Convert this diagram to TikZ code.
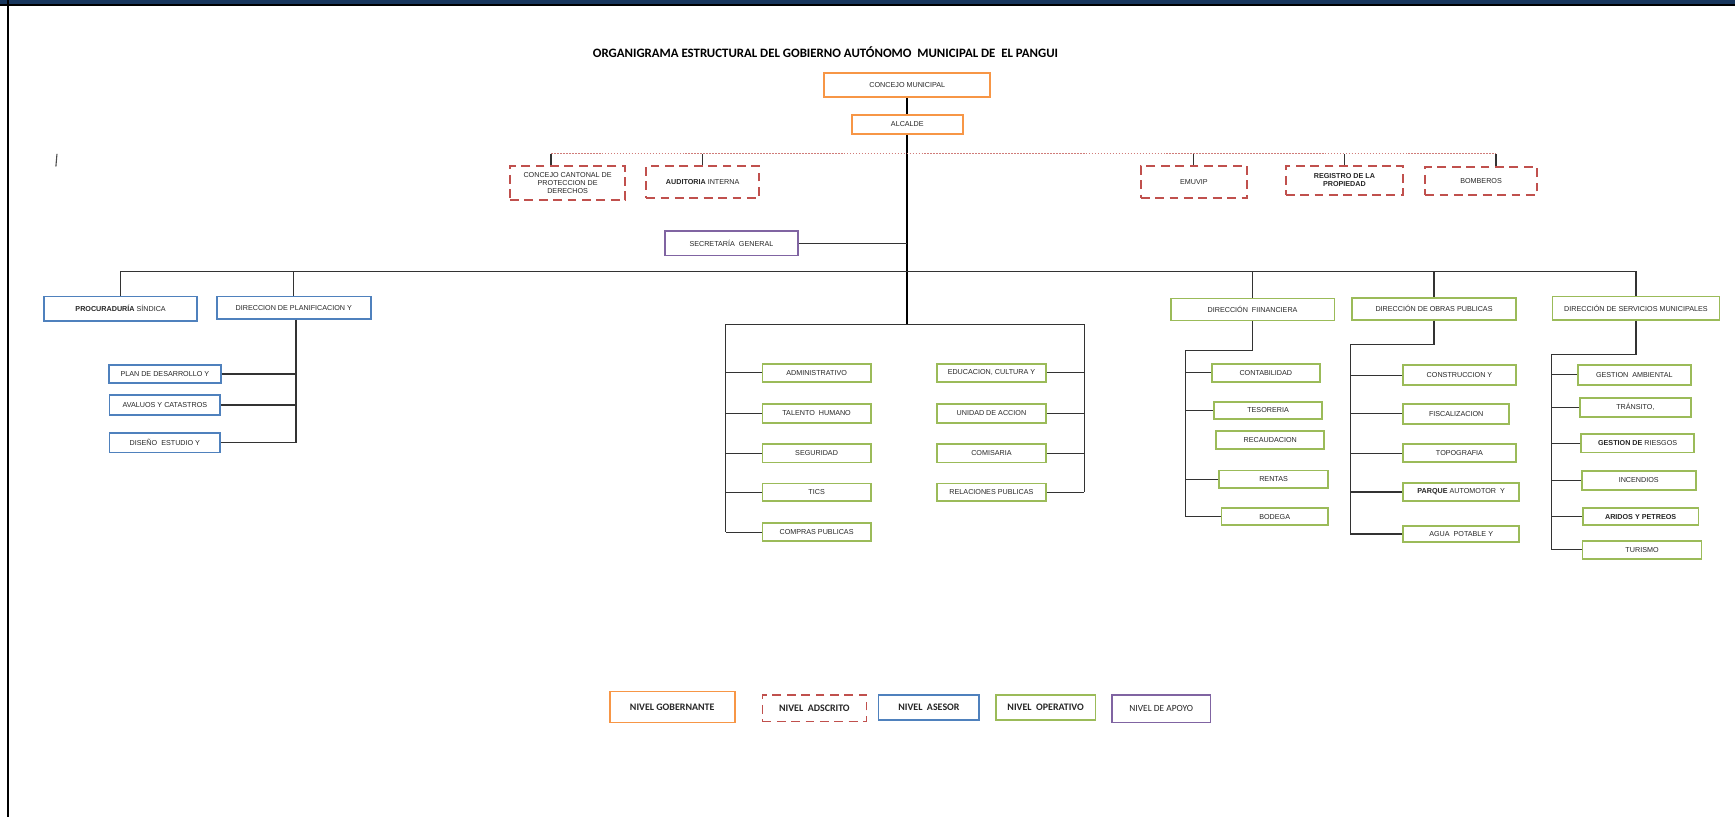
\documentclass[tikz,border=0pt]{standalone}
\usepackage{fontspec}
\setmainfont{Liberation Sans}
\newfontfamily\calib{Carlito}
\definecolor{gobcol}{HTML}{F79646}
\definecolor{adscol}{HTML}{C0504D}
\definecolor{asecol}{HTML}{4F81BD}
\definecolor{opecol}{HTML}{9BBB59}
\definecolor{apocol}{HTML}{8064A2}
\definecolor{barcol}{HTML}{17365D}
\begin{document}
\begin{tikzpicture}[x=1pt,y=-1pt,
    wh/.style 2 args={minimum width=#1pt,minimum height=#2pt}]
    \tikzstyle{box}=[draw,fill=white,line width=1.6pt,inner sep=0pt,align=center,
        text=black!85,font=\fontsize{6.5}{7.5}\selectfont]
    \tikzstyle{gob}=[box,draw=gobcol]
    \tikzstyle{ads}=[box,draw=adscol,dash pattern=on 8pt off 5pt]
    \tikzstyle{ase}=[box,draw=asecol]
    \tikzstyle{ope}=[box,draw=opecol]
    \tikzstyle{apo}=[box,draw=apocol]
    \tikzstyle{lgd}=[font=\calib\bfseries\fontsize{9}{10}\selectfont]
    \tikzstyle{link}=[line width=1pt,black!80]
    \tikzstyle{main}=[line width=2pt,black]
    \tikzstyle{dotline}=[line width=0.8pt,adscol!75,dash pattern=on 1.5pt off 1.2pt]
    \useasboundingbox (0,0) rectangle (1568,738);
    \fill[barcol] (0,0) rectangle (1568,3.6);
    \fill[black] (0,3.6) rectangle (1568,5.6);
    \fill[black] (6.3,0) rectangle (8.3,738);
    \draw[black!70,line width=1pt] (51.5,139) -- (50.5,150.5);

    \node[font=\calib\bfseries\fontsize{11.6}{13}\selectfont] (titulo) at (746,47)
        {ORGANIGRAMA ESTRUCTURAL DEL GOBIERNO AUTÓNOMO\ \ MUNICIPAL DE\ \ EL PANGUI};

    \node[gob,wh={150}{22}] (concejo) at (820,77) {CONCEJO MUNICIPAL};
    \node[gob,wh={100}{17}] (alcalde) at (820,112.5) {ALCALDE};

    \node[ads,wh={104}{31}] (cantonal) at (513,165.5) {CONCEJO CANTONAL DE\\PROTECCION DE\\DERECHOS};
    \node[ads,wh={102}{29}] (auditoria) at (635,164.5) {\textbf{AUDITORIA} INTERNA};
    \node[ads,wh={96}{29}] (emuvip) at (1079,164.5) {EMUVIP};
    \node[ads,wh={106}{26}] (registro) at (1215,163) {\textbf{REGISTRO DE LA}\\\textbf{PROPIEDAD}};
    \node[ads,wh={101}{25}] (bomberos) at (1338.5,163.5) {BOMBEROS};

    \node[apo,wh={120}{22}] (secretaria) at (661,220) {SECRETARÍA\ \ GENERAL};

    \node[ase,wh={138}{22}] (procuraduria) at (109,279) {\textbf{PROCURADURÍA} SÍNDICA};
    \node[ase,wh={139}{20}] (planificacion) at (265.5,278) {DIRECCION DE PLANIFICACION Y};
    \node[ase,wh={101}{16}] (pdesarrollo) at (149,338) {PLAN DE DESARROLLO Y};
    \node[ase,wh={100}{17.5}] (avaluos) at (149,366) {AVALUOS Y CATASTROS};
    \node[ase,wh={100}{18}] (diseno) at (149,400) {DISEÑO\ \ ESTUDIO Y};

    \node[ope,wh={98}{16}] (administrativo) at (738,337) {ADMINISTRATIVO};
    \node[ope,wh={98}{17}] (talento) at (738,373.5) {TALENTO\ \ HUMANO};
    \node[ope,wh={98}{17}] (seguridad) at (738,409.5) {SEGURIDAD};
    \node[ope,wh={98}{16}] (tics) at (738,445) {TICS};
    \node[ope,wh={98}{16}] (compras) at (738,481) {COMPRAS PUBLICAS};
    \node[ope,wh={98}{16}] (educacion) at (896,337) {EDUCACION, CULTURA Y};
    \node[ope,wh={98}{17}] (unidad) at (896,373.5) {UNIDAD DE ACCION};
    \node[ope,wh={98}{17}] (comisaria) at (896,409.5) {COMISARIA};
    \node[ope,wh={98}{16}] (relaciones) at (896,445) {RELACIONES PUBLICAS};

    \node[ope,wh={148}{20}] (financiera) at (1132,279.7) {DIRECCIÓN\ \ FIINANCIERA};
    \node[ope,wh={98}{16}] (contabilidad) at (1144,337) {CONTABILIDAD};
    \node[ope,wh={98}{16}] (tesoreria) at (1146,371) {TESORERIA};
    \node[ope,wh={97.6}{16.3}] (recaudacion) at (1148,397.6) {RECAUDACION};
    \node[ope,wh={98.5}{15.6}] (rentas) at (1151,433) {RENTAS};
    \node[ope,wh={96}{15.6}] (bodega) at (1152,467) {BODEGA};

    \node[ope,wh={148.5}{20}] (obras) at (1296,279) {DIRECCIÓN DE OBRAS PUBLICAS};
    \node[ope,wh={102.5}{18.4}] (construccion) at (1319,339) {CONSTRUCCION Y};
    \node[ope,wh={96}{18}] (fiscalizacion) at (1316,374) {FISCALIZACION};
    \node[ope,wh={102.5}{16.5}] (topografia) at (1319,409.5) {TOPOGRAFIA};
    \node[ope,wh={105}{15.7}] (parque) at (1320.5,444.6) {\textbf{PARQUE} AUTOMOTOR\ \ Y};
    \node[ope,wh={105}{14.4}] (agua) at (1320.5,482.6) {AGUA\ \ POTABLE Y};

    \node[ope,wh={151}{21}] (servicios) at (1478.5,278.5) {DIRECCIÓN DE SERVICIOS MUNICIPALES};
    \node[ope,wh={102}{18.4}] (ambiental) at (1477,338.8) {GESTION\ \ AMBIENTAL};
    \node[ope,wh={100}{17.2}] (transito) at (1478,368) {TRÁNSITO,};
    \node[ope,wh={102}{16.5}] (riesgos) at (1480,400.7) {\textbf{GESTION DE} RIESGOS};
    \node[ope,wh={103}{17}] (incendios) at (1481,434) {INCENDIOS};
    \node[ope,wh={104.5}{15}] (aridos) at (1482.7,466.9) {\textbf{ARIDOS Y PETREOS}};
    \node[ope,wh={107.5}{16.4}] (turismo) at (1484,496.8) {TURISMO};

    \node[gob,lgd,wh={113}{28}] (lgob) at (607.5,639) {NIVEL GOBERNANTE};
    \node[ads,lgd,wh={94}{24}] (lads) at (736,640) {NIVEL\ \ ADSCRITO};
    \node[ase,lgd,wh={91}{23}] (lase) at (839.5,639.5) {NIVEL\ \ ASESOR};
    \node[ope,lgd,wh={90}{23}] (lope) at (945,639.5) {NIVEL\ \ OPERATIVO};
    \node[apo,wh={89}{25},font=\calib\fontsize{8.5}{10}\selectfont] (lapo) at (1049.5,640.5) {NIVEL DE APOYO};

    \coordinate (cbase) at (820,293);
    \coordinate (bus) at (0,245.5);
    \coordinate (dizq) at (498,139);
    \coordinate (dder) at (1352,139);
    \coordinate (plbase) at (267.5,400);
    \coordinate (cizq) at (656,481);
    \coordinate (cder) at (980,445);
    \coordinate (fin) at (1071,317);
    \coordinate (obr) at (1220.4,311);
    \coordinate (ser) at (1402.5,320.5);

    \draw[main] (concejo.south) -- (alcalde.north);
    \draw[main] (alcalde.south) -- (cbase);
    \draw[link] (secretaria.east) -- (secretaria.east -| cbase);

    \draw[dotline] (dizq) -- (dder);
    \draw[link] (dizq) -- (dizq |- cantonal.north);
    \draw[link] (dder) -- (dder |- bomberos.north);
    \foreach \n in {auditoria,emuvip,registro}
        \draw[link] (\n.north) -- (\n.north |- dizq);

    \draw[link] (procuraduria.north) -- (procuraduria.north |- bus)
        -- (servicios.north |- bus) -- (servicios.north);
    \foreach \n in {planificacion,financiera,obras}
        \draw[link] (\n.north) -- (\n.north |- bus);

    \draw[link] (plbase |- planificacion.south) -- (plbase);
    \foreach \n in {pdesarrollo,avaluos,diseno}
        \draw[link] (\n.east) -- (\n.east -| plbase);

    \draw[link] (cizq) -- (cizq |- cbase) -- (cder |- cbase) -- (cder);
    \foreach \n in {administrativo,talento,seguridad,tics,compras}
        \draw[link] (\n.west) -- (\n.west -| cizq);
    \foreach \n in {educacion,unidad,comisaria,relaciones}
        \draw[link] (\n.east) -- (\n.east -| cder);

    \draw[link] (financiera.south) -- (financiera.south |- fin) -- (fin) -- (fin |- bodega.west);
    \foreach \n in {contabilidad,tesoreria,rentas,bodega}
        \draw[link] (\n.west) -- (\n.west -| fin);

    \draw[link] (obras.south) -- (obras.south |- obr) -- (obr) -- (obr |- agua.west);
    \foreach \n in {construccion,fiscalizacion,topografia,parque,agua}
        \draw[link] (\n.west) -- (\n.west -| obr);

    \draw[link] (servicios.south) -- (servicios.south |- ser) -- (ser) -- (ser |- turismo.west);
    \foreach \n in {ambiental,transito,riesgos,incendios,aridos,turismo}
        \draw[link] (\n.west) -- (\n.west -| ser);
\end{tikzpicture}
\end{document}
